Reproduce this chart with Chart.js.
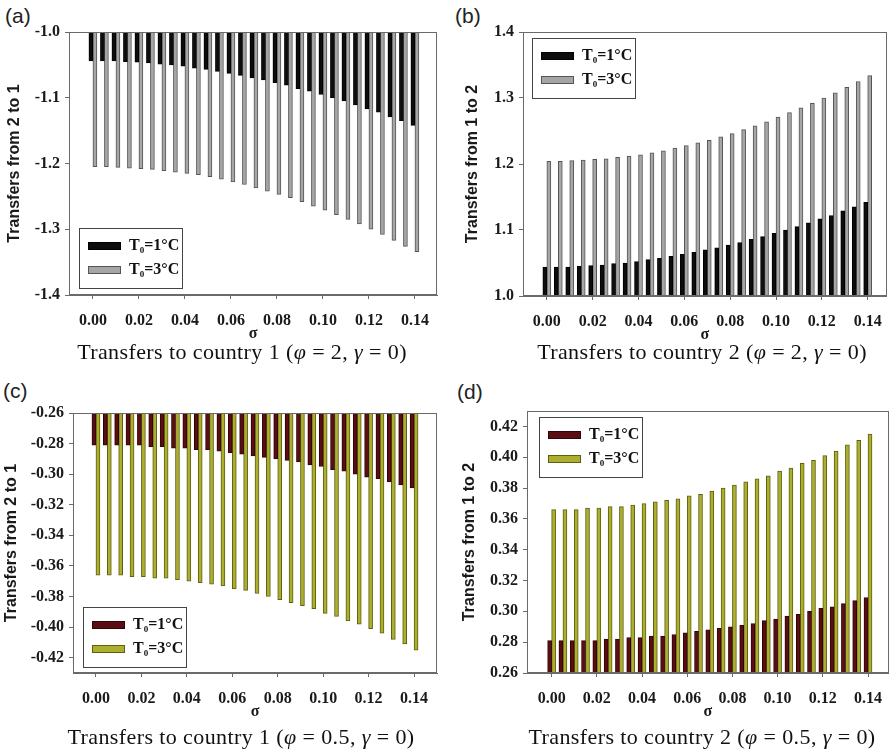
<!DOCTYPE html>
<html>
<head>
<meta charset="utf-8">
<script src="https://cdn.jsdelivr.net/npm/chart.js@4.4.0/dist/chart.umd.min.js"></script>
<style>
  body { margin: 0; background: #fff; width: 894px; height: 751px; position: relative; overflow: hidden; }
  .panel { position: absolute; }
  .tag { position: absolute; font-family: "Liberation Sans", Arial, sans-serif; font-size: 21px; color: #222; line-height: 24px; }
  .cap { position: absolute; font-family: "Liberation Serif", "Times New Roman", serif; font-size: 22px; color: #111;
         letter-spacing: 0.4px; white-space: nowrap; line-height: 24px; transform: translateX(-50%); }
  .cap i { font-style: italic; }
</style>
</head>
<body>

<div class="tag" style="left:5px;top:4px">(a)</div>
<div class="tag" style="left:455px;top:4px">(b)</div>
<div class="tag" style="left:3px;top:379px">(c)</div>
<div class="tag" style="left:457px;top:380px">(d)</div>

<div class="panel" style="left:0px;top:0px;width:445px;height:373px"><canvas id="pa"></canvas></div>
<div class="panel" style="left:460px;top:0px;width:434px;height:373px"><canvas id="pb"></canvas></div>
<div class="panel" style="left:0px;top:375px;width:445px;height:376px"><canvas id="pc"></canvas></div>
<div class="panel" style="left:457px;top:375px;width:437px;height:376px"><canvas id="pd"></canvas></div>

<div class="cap" style="left:242px;top:340px">Transfers to country 1 (<i>φ</i> = 2, <i>γ</i> = 0)</div>
<div class="cap" style="left:702px;top:340px">Transfers to country 2 (<i>φ</i> = 2, <i>γ</i> = 0)</div>
<div class="cap" style="left:241px;top:725px">Transfers to country 1 (<i>φ</i> = 0.5, <i>γ</i> = 0)</div>
<div class="cap" style="left:702px;top:725px">Transfers to country 2 (<i>φ</i> = 0.5, <i>γ</i> = 0)</div>

<script>
// sigma values (one bar pair per value)
var sigma = [0.000, 0.005, 0.010, 0.015, 0.020, 0.025, 0.030, 0.035, 0.040, 0.045,
             0.050, 0.055, 0.060, 0.065, 0.070, 0.075, 0.080, 0.085, 0.090, 0.095,
             0.100, 0.105, 0.110, 0.115, 0.120, 0.125, 0.130, 0.135, 0.140];
var xTicks = [0.00, 0.02, 0.04, 0.06, 0.08, 0.10, 0.12, 0.14];
var seriesLabels = ['T0=1°C', 'T0=3°C'];

// (a) transfers from 2 to 1, phi = 2
var aT1 = [-1.044, -1.044, -1.044, -1.045, -1.046, -1.047, -1.049, -1.050, -1.052, -1.055,
           -1.057, -1.060, -1.063, -1.066, -1.070, -1.073, -1.077, -1.081, -1.086, -1.090,
           -1.095, -1.100, -1.105, -1.111, -1.117, -1.122, -1.129, -1.135, -1.142];
var aT3 = [-1.205, -1.205, -1.206, -1.207, -1.208, -1.209, -1.211, -1.213, -1.215, -1.217,
           -1.220, -1.224, -1.228, -1.232, -1.237, -1.242, -1.247, -1.252, -1.258, -1.265,
           -1.271, -1.278, -1.285, -1.292, -1.300, -1.308, -1.317, -1.326, -1.334];
// (b) transfers from 1 to 2, phi = 2
var bT1 = [1.044, 1.044, 1.044, 1.045, 1.046, 1.047, 1.049, 1.050, 1.052, 1.055,
           1.057, 1.060, 1.063, 1.066, 1.070, 1.073, 1.077, 1.081, 1.086, 1.090,
           1.095, 1.100, 1.105, 1.111, 1.117, 1.122, 1.129, 1.135, 1.142];
var bT3 = [1.204, 1.204, 1.205, 1.206, 1.207, 1.208, 1.210, 1.212, 1.214, 1.217,
           1.220, 1.224, 1.228, 1.232, 1.236, 1.241, 1.246, 1.252, 1.258, 1.264,
           1.271, 1.278, 1.285, 1.292, 1.300, 1.308, 1.316, 1.325, 1.334];
// (c) transfers from 2 to 1, phi = 0.5
var cT1 = [-0.281, -0.281, -0.281, -0.281, -0.281, -0.282, -0.282, -0.283, -0.283, -0.284,
           -0.284, -0.285, -0.286, -0.287, -0.288, -0.289, -0.290, -0.291, -0.292, -0.294,
           -0.295, -0.297, -0.298, -0.300, -0.302, -0.303, -0.305, -0.307, -0.309];
var cT3 = [-0.366, -0.366, -0.366, -0.367, -0.367, -0.368, -0.368, -0.369, -0.370, -0.371,
           -0.372, -0.373, -0.375, -0.376, -0.378, -0.380, -0.382, -0.384, -0.386, -0.388,
           -0.391, -0.393, -0.396, -0.398, -0.401, -0.404, -0.408, -0.411, -0.415];
// (d) transfers from 1 to 2, phi = 0.5
var dT1 = [0.281, 0.281, 0.281, 0.281, 0.281, 0.282, 0.282, 0.283, 0.283, 0.284,
           0.284, 0.285, 0.286, 0.287, 0.288, 0.289, 0.290, 0.291, 0.292, 0.294,
           0.295, 0.297, 0.298, 0.300, 0.302, 0.303, 0.305, 0.307, 0.309];
var dT3 = [0.366, 0.366, 0.366, 0.367, 0.367, 0.368, 0.368, 0.369, 0.370, 0.371,
           0.372, 0.373, 0.375, 0.376, 0.378, 0.380, 0.382, 0.384, 0.386, 0.388,
           0.391, 0.393, 0.396, 0.398, 0.401, 0.404, 0.408, 0.411, 0.415];

var aTicks = [-1.4, -1.3, -1.2, -1.1, -1.0];
var bTicks = [1.0, 1.1, 1.2, 1.3, 1.4];
var cTicks = [-0.42, -0.40, -0.38, -0.36, -0.34, -0.32, -0.30, -0.28, -0.26];
var dTicks = [0.26, 0.28, 0.30, 0.32, 0.34, 0.36, 0.38, 0.40, 0.42];

var grey = { c1: '#0d0d0d', b1: '#000000', c3: '#a6a6a6', b3: '#555555' };
var olive = { c1: '#5a0e13', b1: '#2e0406', c3: '#abae2e', b3: '#5e6010' };

var tickFont = { family: '"Liberation Serif", "Times New Roman", serif', size: 16, weight: 'bold' };
var axisFont = { family: '"Liberation Sans", Arial, sans-serif', size: 16, weight: 'bold' };

function pts(vals) {
  return vals.map(function (v, i) { return { x: sigma[i], y: v }; });
}

// frame round the plot area
var frame = {
  id: 'frame',
  afterDatasetsDraw: function (chart) {
    var a = chart.chartArea, ctx = chart.ctx;
    ctx.save();
    ctx.strokeStyle = '#6a6a6a';
    ctx.lineWidth = 1;
    ctx.strokeRect(Math.round(a.left) + 0.5, Math.round(a.top) + 0.5,
                   Math.round(a.right - a.left) - 1, Math.round(a.bottom - a.top) - 1);
    ctx.restore();
  }
};

// boxed legend inside the plot, T with a subscript 0
var boxLegend = {
  id: 'boxLegend',
  afterDraw: function (chart, args, o) {
    var a = chart.chartArea, ctx = chart.ctx;
    var x = Math.round(a.left + o.dx), y = Math.round(o.fromBottom ? a.bottom - o.dy : a.top + o.dy);
    ctx.save();
    ctx.fillStyle = '#fff';
    ctx.fillRect(x, y, 103, 60);
    ctx.strokeStyle = '#444';
    ctx.lineWidth = 1;
    ctx.strokeRect(x + 0.5, y + 0.5, 103, 60);
    chart.data.datasets.forEach(function (ds, i) {
      var ry = y + 18 + i * 24;
      ctx.fillStyle = ds.backgroundColor;
      ctx.fillRect(x + 9, ry - 4, 33, 8);
      ctx.strokeStyle = ds.borderColor;
      ctx.strokeRect(x + 9.5, ry - 3.5, 32, 7);
      ctx.fillStyle = '#111';
      ctx.textBaseline = 'middle';
      var tx = x + 50;
      ctx.font = 'bold 16px "Liberation Serif", serif';
      ctx.fillText(ds.label.charAt(0), tx, ry);
      tx += ctx.measureText(ds.label.charAt(0)).width;
      ctx.font = 'bold 9px "Liberation Serif", serif';
      ctx.fillText(ds.label.charAt(1), tx, ry + 5);
      tx += ctx.measureText(ds.label.charAt(1)).width;
      ctx.font = 'bold 16px "Liberation Serif", serif';
      ctx.fillText(ds.label.slice(2), tx, ry);
    });
    ctx.restore();
  }
};

function panel(id, s1, s3, pal, yTicks, yMin, yMax, digits, yTitle, cfg) {
  new Chart(document.getElementById(id), {
    type: 'bar',
    data: {
      datasets: [
        { label: seriesLabels[0], data: pts(s1), backgroundColor: pal.c1, borderColor: pal.b1, borderWidth: 1, barThickness: 4 },
        { label: seriesLabels[1], data: pts(s3), backgroundColor: pal.c3, borderColor: pal.b3, borderWidth: 1, barThickness: 4 }
      ]
    },
    options: {
      responsive: true,
      maintainAspectRatio: false,
      animation: false,
      layout: { padding: cfg.pad },
      plugins: {
        legend: { display: false },
        tooltip: { enabled: false },
        boxLegend: cfg.legend
      },
      scales: {
        x: {
          type: 'linear',
          offset: false,
          min: cfg.xMin,
          max: cfg.xMax,
          afterBuildTicks: function (s) { s.ticks = xTicks.map(function (v) { return { value: v }; }); },
          afterFit: function (s) { s.height = 48; },
          ticks: { font: tickFont, color: '#1a1a1a', padding: 12,
                   callback: function (v) { return v.toFixed(2); } },
          grid: { offset: false, drawOnChartArea: false, tickLength: 4, color: '#6a6a6a' },
          border: { color: '#6a6a6a' },
          title: { display: true, text: 'σ', font: tickFont, color: '#1a1a1a', padding: 0 }
        },
        y: {
          min: yMin,
          max: yMax,
          afterBuildTicks: function (s) { s.ticks = yTicks.map(function (v) { return { value: v }; }); },
          afterFit: function (s) { s.width = cfg.yWidth; },
          ticks: { font: tickFont, color: '#1a1a1a', padding: 5,
                   callback: function (v) { return v.toFixed(digits); } },
          grid: { drawOnChartArea: false, tickLength: 4, color: '#6a6a6a' },
          border: { color: '#6a6a6a' },
          title: { display: true, text: yTitle, font: axisFont, color: '#1a1a1a', padding: { top: cfg.tPad, bottom: 0 } }
        }
      }
    },
    plugins: [frame, boxLegend]
  });
}

panel('pa', aT1, aT3, grey, aTicks, -1.4, -1.0, 1, 'Transfers from 2 to 1', {
  pad: { top: 32, left: 0, right: 8, bottom: 30 }, yWidth: 69, tPad: 5,
  xMin: -0.0104, xMax: 0.1496, legend: { dx: 10, dy: 67, fromBottom: true }
});
panel('pb', bT1, bT3, grey, bTicks, 1.0, 1.4, 1, 'Transfers from 1 to 2', {
  pad: { top: 32, left: 0, right: 6, bottom: 29 }, yWidth: 63, tPad: 3,
  xMin: -0.0104, xMax: 0.1483, legend: { dx: 9, dy: 6, fromBottom: false }
});
panel('pc', cT1, cT3, olive, cTicks, -0.43, -0.26, 2, 'Transfers from 2 to 1', {
  pad: { top: 38, left: 0, right: 8, bottom: 30 }, yWidth: 73, tPad: 2,
  xMin: -0.0101, xMax: 0.1501, legend: { dx: 10, dy: 66, fromBottom: true }
});
panel('pd', dT1, dT3, olive, dTicks, 0.26, 0.43, 2, 'Transfers from 1 to 2', {
  pad: { top: 36, left: 0, right: 0, bottom: 30 }, yWidth: 70, tPad: 3,
  xMin: -0.0109, xMax: 0.1492, legend: { dx: 12, dy: 6, fromBottom: false }
});
</script>
</body>
</html>
